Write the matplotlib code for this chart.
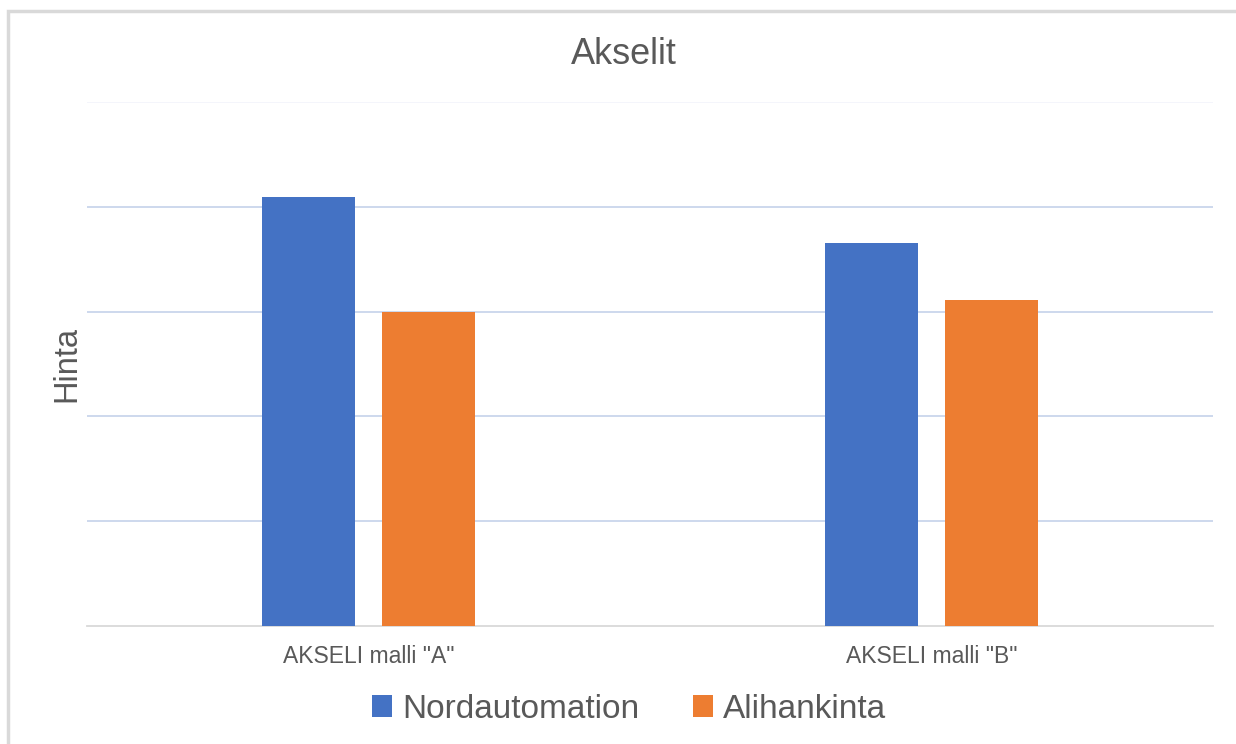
import matplotlib
matplotlib.use("Agg")
import matplotlib.pyplot as plt
from matplotlib.patches import Rectangle
import numpy as np

categories = ['AKSELI malli "A"', 'AKSELI malli "B"']
series_names = ["Nordautomation", "Alihankinta"]
nordautomation = [4.09, 3.65]
alihankinta = [3.00, 3.11]
colors = ["#4472C4", "#ED7D31"]

plt.rcParams['font.family'] = ['Liberation Sans', 'DejaVu Sans']
text_color = "#595959"

fig = plt.figure(figsize=(12.36, 7.44), dpi=100)
W, H = 1236, 744
# outer chart border (extends past the right and bottom edges)
fig.patches.append(Rectangle((8 / W, -0.2), 1.2, 0.2 + (H - 11) / H, transform=fig.transFigure,
                             fill=False, edgecolor="#d9d9d9", linewidth=2.5))

ax = fig.add_axes([87 / W, 1 - 626 / H, (1213 - 87) / W, (626 - 102) / H])
x = np.arange(len(categories))
width = 0.165
off = 0.106
ax.bar(x - off, nordautomation, width, color=colors[0], label=series_names[0], zorder=3)
ax.bar(x + off, alihankinta, width, color=colors[1], label=series_names[1], zorder=3)

ax.set_xlim(-0.5, 1.5)
ax.set_ylim(0, 5)
ax.set_yticks([1, 2, 3, 4, 5])
ax.yaxis.grid(True, color="#c9d6ec", linewidth=1.3, zorder=0)
ax.tick_params(axis='y', length=0, labelleft=False)
ax.set_xticks(x)
ax.set_xticklabels(categories, fontsize=16.5, color=text_color)
ax.tick_params(axis='x', length=0, pad=14)
for s in ["top", "right", "left"]:
    ax.spines[s].set_visible(False)
ax.spines["bottom"].set_color("#d9d9d9")
ax.spines["bottom"].set_linewidth(1.3)
# fade top gridline
ax.get_ygridlines()[-1].set_color("#f3f5fb")

ax.set_ylabel("Hinta", fontsize=23.5, color=text_color, labelpad=3)
fig.text(624 / W, 1 - 54 / H, "Akselit", fontsize=26, color=text_color, ha="center", va="center")

leg = fig.legend(loc="center", bbox_to_anchor=(629 / W, 1 - 709 / H), ncol=2, frameon=False,
                 fontsize=24, handlelength=0.62, handleheight=0.62, handletextpad=0.3,
                 columnspacing=1.6, labelcolor=text_color)

fig.savefig("out.png", dpi=100)
